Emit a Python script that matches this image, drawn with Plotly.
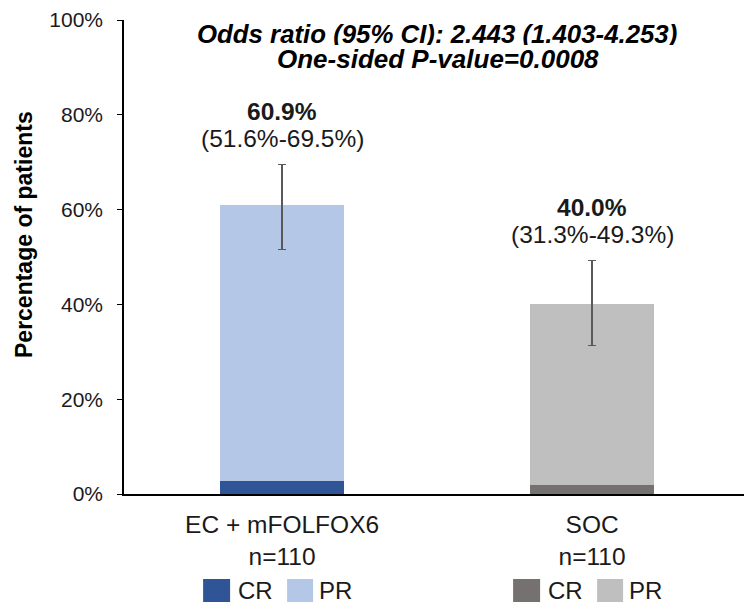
import plotly.graph_objects as go

# Objective response rate by arm, split into complete / partial responses
groups = ["EC + mFOLFOX6", "SOC"]
n_patients = [110, 110]
orr = [60.9, 40.0]          # overall response rate, %
cr = [2.7, 1.8]             # complete response, %
ci_low = [51.6, 31.3]
ci_high = [69.5, 49.3]
pr = [round(o - c, 1) for o, c in zip(orr, cr)]  # partial response, %

cr_colors = ["#2F5597", "#767171"]
pr_colors = ["#B4C7E7", "#BFBFBF"]

y_ticks = [0, 20, 40, 60, 80, 100]
tick_text = [f"{g}<br>n={n}" for g, n in zip(groups, n_patients)]

FONT = "Liberation Sans, Arial, sans-serif"
TXT = "#1a1a1a"

W, H = 744, 602
ML, MR, MT, MB = 124, 0, 20, 108
pw, ph = W - ML - MR, H - MT - MB


def px_to_paper(px, py):
    """Pixel position on the page -> paper coordinates."""
    return (px - ML) / pw, (H - MB - py) / ph


fig = go.Figure()
fig.add_trace(go.Bar(
    x=groups, y=cr, name="CR", marker=dict(color=cr_colors, line=dict(width=0)),
    width=0.4, showlegend=False,
))
fig.add_trace(go.Bar(
    x=groups, y=pr, name="PR", marker=dict(color=pr_colors, line=dict(width=0)),
    width=0.4, showlegend=False,
    error_y=dict(
        type="data", symmetric=False,
        array=[h - o for h, o in zip(ci_high, orr)],
        arrayminus=[o - l for o, l in zip(orr, ci_low)],
        color="#595959", thickness=1.5, width=4,
    ),
))

annotations = []
# Rate and confidence interval above each error bar
for g, o, lo, hi in zip(groups, orr, ci_low, ci_high):
    annotations.append(dict(
        x=g, y=hi, xref="x", yref="y", yshift=53, showarrow=False,
        xanchor="center", yanchor="middle",
        text=f"<b>{o:.1f}%</b>", font=dict(family=FONT, size=24.5, color=TXT),
    ))
    annotations.append(dict(
        x=g, y=hi, xref="x", yref="y", yshift=26, showarrow=False,
        xanchor="center", yanchor="middle",
        text=f"({lo:.1f}%-{hi:.1f}%)", font=dict(family=FONT, size=24.5, color=TXT),
    ))

# Statistical summary at the top
tx1, ty1 = px_to_paper(437, 34)
tx2, ty2 = px_to_paper(438, 58)
annotations.append(dict(
    x=tx1, y=ty1, xref="paper", yref="paper", showarrow=False,
    xanchor="center", yanchor="middle", height=23,
    text="<b><i>Odds ratio (95% CI): 2.443 (1.403-4.253)</i></b>",
    font=dict(family=FONT, size=25.8, color="#000000"),
))
annotations.append(dict(
    x=tx2, y=ty2, xref="paper", yref="paper", showarrow=False,
    xanchor="center", yanchor="middle", height=23,
    text="<b><i>One-sided P-value=0.0008</i></b>",
    font=dict(family=FONT, size=26, color="#000000"),
))

# Y-axis title
yx, yy = px_to_paper(24, 235)
annotations.append(dict(
    x=yx, y=yy, xref="paper", yref="paper", showarrow=False,
    xanchor="center", yanchor="middle",
    text="<b>Percentage of patients</b>", textangle=-90,
    font=dict(family=FONT, size=23, color="#000000"),
))

# Per-arm CR / PR keys below the axis labels
shapes = []
for g, cc, pc in zip(groups, cr_colors, pr_colors):
    for (x0, x1, col, label, tx) in [(-79, -52, cc, "CR", -46), (5, 31, pc, "PR", 35)]:
        shapes.append(dict(
            type="rect", xref="x", yref="paper", xsizemode="pixel", ysizemode="pixel",
            xanchor=g, yanchor=0, x0=x0, x1=x1, y0=-85, y1=-111,
            fillcolor=col, line=dict(width=0), layer="above",
        ))
        annotations.append(dict(
            x=g, y=0, xref="x", yref="paper", xshift=tx, yshift=-96,
            xanchor="left", yanchor="middle", height=20,
            showarrow=False, text=label, font=dict(family=FONT, size=24, color=TXT),
        ))

fig.update_layout(
    width=W, height=H, margin=dict(l=ML, r=MR, t=MT, b=MB),
    barmode="stack", bargap=0.6,
    plot_bgcolor="white", paper_bgcolor="white",
    font=dict(family=FONT, size=22, color=TXT),
    annotations=annotations, shapes=shapes,
    xaxis=dict(
        range=[-0.51, 1.49], tickvals=groups, ticktext=tick_text,
        showline=True, linecolor="#000000", linewidth=1.5, ticks="",
        ticklabelstandoff=8,
        showgrid=False, zeroline=False, tickfont=dict(size=24.5, color=TXT),
    ),
    yaxis=dict(
        range=[0, 100], tickvals=y_ticks, ticktext=[f"{v}%" for v in y_ticks],
        showline=True, linecolor="#000000", linewidth=1.5,
        ticks="outside", ticklen=5, tickcolor="#000000", tickwidth=1,
        ticklabelstandoff=10,
        showgrid=False, zeroline=False, tickfont=dict(size=21, color=TXT),
    ),
)

fig.write_html("out.html")
